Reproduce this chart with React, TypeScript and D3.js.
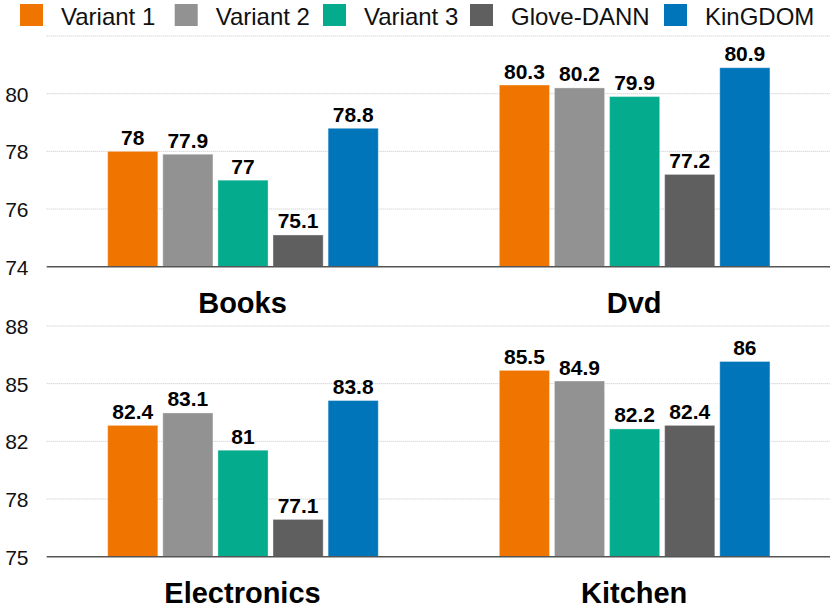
import React from "react";
import * as d3 from "d3";

const series = ["Variant 1", "Variant 2", "Variant 3", "Glove-DANN", "KinGDOM"];
const colors = ["#F07400", "#929292", "#04AB8D", "#5F5F5F", "#0075BA"];

const topCategories = ["Books", "Dvd"];
const bottomCategories = ["Electronics", "Kitchen"];

const books = [78, 77.9, 77, 75.1, 78.8];
const dvd = [80.3, 80.2, 79.9, 77.2, 80.9];
const electronics = [82.4, 83.1, 81, 77.1, 83.8];
const kitchen = [85.5, 84.9, 82.2, 82.4, 86];

const topDomain = [74, 82];
const topTicks = [74, 76, 78, 80, 82];
const topTickLabels = ["74", "76", "78", "80", ""];
const bottomDomain = [75, 88];
const bottomTicks = [75, 78.25, 81.5, 84.75, 88];
const bottomTickLabels = ["75", "78", "82", "85", "88"];

const W = 830;
const H = 613;
const FONT = "'Liberation Sans', Arial, Helvetica, sans-serif";
const plotLeft = 46.7;
const plotRight = 830;

type PanelProps = {
  cats: string[];
  values: number[][];
  domain: number[];
  ticks: number[];
  tickLabels: string[];
  yTop: number;
  yBottom: number;
};

function Panel({ cats, values, domain, ticks, tickLabels, yTop, yBottom }: PanelProps) {
  const y = d3.scaleLinear().domain(domain).range([yBottom, yTop]);
  const x0 = d3.scaleBand().domain(cats).range([plotLeft, plotRight]).paddingInner(0).paddingOuter(0);
  const bw = x0.bandwidth();
  const x1 = d3
    .scaleBand()
    .domain(series)
    .range([bw * 0.1557, bw * 0.8466])
    .paddingInner(0.09)
    .paddingOuter(0);
  return (
    <g>
      {ticks.map((t, i) => (
        <g key={"t" + i}>
          {i > 0 && (
            <line
              x1={plotLeft}
              x2={plotRight}
              y1={y(t)}
              y2={y(t)}
              stroke="#c4c4c4"
              strokeWidth={1}
              strokeDasharray="1,1"
            />
          )}
          <text
            x={28.5}
            y={y(t) + 8}
            textAnchor="end"
            fontFamily={FONT}
            fontSize={21}
            fill="#111"
          >
            {tickLabels[i]}
          </text>
        </g>
      ))}
      {cats.map((c, ci) => (
        <g key={c} transform={`translate(${x0(c)},0)`}>
          {series.map((s, si) => {
            const v = values[ci][si];
            const bx = x1(s) as number;
            return (
              <g key={s}>
                <rect
                  x={bx}
                  y={y(v)}
                  width={x1.bandwidth()}
                  height={yBottom - y(v)}
                  fill={colors[si]}
                  stroke="#ffffff"
                  strokeOpacity={0.35}
                  strokeWidth={1}
                />
                <text
                  x={bx + x1.bandwidth() / 2}
                  y={y(v) - 6.5}
                  textAnchor="middle"
                  fontFamily={FONT}
                  fontWeight="bold"
                  fontSize={21}
                  fill="#000"
                >
                  {String(v)}
                </text>
              </g>
            );
          })}
          <text
            x={bw / 2}
            y={yBottom + 46.5}
            textAnchor="middle"
            fontFamily={FONT}
            fontWeight="bold"
            fontSize={29}
            fill="#000"
          >
            {c}
          </text>
        </g>
      ))}
      <line x1={plotLeft} x2={plotRight} y1={yBottom} y2={yBottom} stroke="#555" strokeWidth={1.5} />
    </g>
  );
}

const legendX = [20, 174.7, 323, 470, 664];

export default function App() {
  return (
    <svg
      width={W}
      height={H}
      viewBox={`0 0 ${W} ${H}`}
      style={{ position: "absolute", left: 0, top: 0, background: "#fff" }}
    >
      <rect x={0} y={0} width={W} height={H} fill="#fff" />
      {series.map((s, i) => (
        <g key={s}>
          <rect x={legendX[i]} y={4} width={23} height={22} fill={colors[i]} />
          <text x={legendX[i] + 41} y={25} fontFamily={FONT} fontSize={24} fill="#111">
            {s}
          </text>
        </g>
      ))}
      <Panel
        cats={topCategories}
        values={[books, dvd]}
        domain={topDomain}
        ticks={topTicks}
        tickLabels={topTickLabels}
        yTop={36}
        yBottom={266.7}
      />
      <Panel
        cats={bottomCategories}
        values={[electronics, kitchen]}
        domain={bottomDomain}
        ticks={bottomTicks}
        tickLabels={bottomTickLabels}
        yTop={326}
        yBottom={556.7}
      />
    </svg>
  );
}
